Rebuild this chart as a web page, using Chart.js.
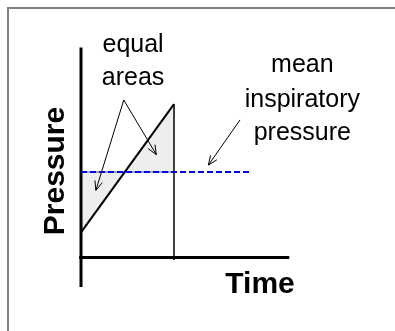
<!DOCTYPE html>
<html>
<head>
<meta charset="utf-8">
<script src="https://cdn.jsdelivr.net/npm/chart.js@4/dist/chart.umd.min.js"></script>
<style>
  body { margin: 0; background: #fff; }
  #wrap { width: 395px; height: 331px; }
</style>
</head>
<body>
<div id="wrap"><canvas id="chart"></canvas></div>
<script>
// time in units of the inspiratory period, pressure in arbitrary units
const rampTime = [0, 1];
const rampPressure = [1.2, 7.3];
const meanPressure = 4.07;
const meanLineEnd = 1.82;

const axisTimeRange = [-0.02, 2.24];
const axisPressureRange = [-1.4, 10];
const releaseBottom = -0.12;

const arrows = [
  { from: [0.46, 7.5], to: [0.16, 3.2] },
  { from: [0.46, 7.5], to: [0.81, 4.9] },
  { from: [1.71, 6.55], to: [1.37, 4.4] }
];

const notes = [
  { text: 'equal', at: [0.56, 10.1] },
  { text: 'areas', at: [0.56, 8.55] },
  { text: 'mean', at: [2.38, 9.17] },
  { text: 'inspiratory', at: [2.38, 7.5] },
  { text: 'pressure', at: [2.38, 5.93] }
];

const axisTitles = [
  { text: 'Pressure', at: [-0.27, 4.12], rotate: true },
  { text: 'Time', at: [1.925, -1.31], rotate: false }
];

function pts(xs, ys) {
  return xs.map((x, i) => ({ x: x, y: ys[i] }));
}

function segment(color, width, data, extra) {
  return Object.assign({
    data: data,
    borderColor: color,
    borderWidth: width,
    pointRadius: 0,
    fill: false,
    tension: 0,
    borderCapStyle: 'butt'
  }, extra || {});
}

// frame, arrows and text
const decorations = {
  id: 'decorations',
  beforeDraw(chart) {
    const ctx = chart.ctx;
    ctx.save();
    ctx.fillStyle = '#808080';
    ctx.fillRect(7, 7, 2, chart.height);
    ctx.fillRect(7, 7, chart.width, 2);
    ctx.restore();
  },
  afterDraw(chart) {
    const ctx = chart.ctx;
    const sx = chart.scales.x, sy = chart.scales.y;
    const px = p => [sx.getPixelForValue(p[0]), sy.getPixelForValue(p[1])];

    ctx.save();
    ctx.strokeStyle = '#000';
    ctx.lineWidth = 1;
    arrows.forEach(a => {
      const [x1, y1] = px(a.from);
      const [x2, y2] = px(a.to);
      ctx.beginPath();
      ctx.moveTo(x1, y1);
      ctx.lineTo(x2, y2);
      const ang = Math.atan2(y2 - y1, x2 - x1);
      const len = 10, spread = 0.4;
      ctx.moveTo(x2 - len * Math.cos(ang - spread), y2 - len * Math.sin(ang - spread));
      ctx.lineTo(x2, y2);
      ctx.lineTo(x2 - len * Math.cos(ang + spread), y2 - len * Math.sin(ang + spread));
      ctx.stroke();
    });

    ctx.fillStyle = '#000';
    ctx.textAlign = 'center';
    ctx.textBaseline = 'middle';
    ctx.font = '25px "Liberation Sans", Arial, sans-serif';
    notes.forEach(n => {
      const [x, y] = px(n.at);
      ctx.fillText(n.text, x, y);
    });

    ctx.font = 'bold 30px "Liberation Sans", Arial, sans-serif';
    axisTitles.forEach(t => {
      const [x, y] = px(t.at);
      ctx.save();
      ctx.translate(x, y);
      if (t.rotate) ctx.rotate(-Math.PI / 2);
      ctx.fillText(t.text, 0, 0);
      ctx.restore();
    });
    ctx.restore();
  }
};

new Chart(document.getElementById('chart'), {
  type: 'line',
  data: {
    datasets: [
      segment('#0000ff', 2, pts([0, meanLineEnd], [meanPressure, meanPressure]), { borderDash: [6, 3] }),
      segment('#000', 2, pts(rampTime, rampPressure)),
      segment('#888', 1.5, pts(rampTime, [meanPressure, meanPressure]), { fill: '-1', backgroundColor: '#eeeeee' }),
      segment('#000', 1.5, pts([1, 1], [rampPressure[1], releaseBottom])),
      segment('#000', 3, pts([0, 0], axisPressureRange)),
      segment('#000', 3, pts(axisTimeRange, [0, 0]))
    ]
  },
  options: {
    responsive: true,
    maintainAspectRatio: false,
    animation: false,
    layout: { padding: { left: 34.5, right: 81.5, top: 26.5, bottom: 31.5 } },
    scales: {
      x: { type: 'linear', min: -0.5, max: 2.5, display: false },
      y: { type: 'linear', min: -2, max: 11, display: false }
    },
    plugins: {
      legend: { display: false },
      tooltip: { enabled: false },
      filler: { drawTime: 'beforeDatasetsDraw' }
    }
  },
  plugins: [decorations]
});
</script>
</body>
</html>
